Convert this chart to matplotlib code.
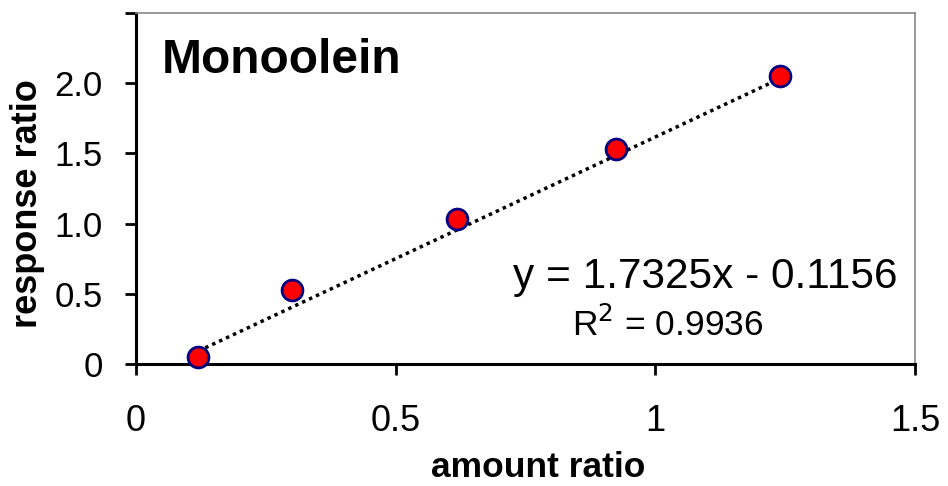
import numpy as np
import matplotlib.pyplot as plt

plt.rcParams['font.family'] = ['Liberation Sans', 'DejaVu Sans']

# calibration points for monoolein
amount_ratio = [0.12, 0.30, 0.618, 0.925, 1.24]
response_ratio = [0.05, 0.53, 1.03, 1.53, 2.05]

# linear trendline from the fit
slope = 1.7325
intercept = -0.1156
r_squared = 0.9936

x_ticks = [0, 0.5, 1, 1.5]
x_tick_labels = ["0", "0.5", "1", "1.5"]
y_ticks = [0, 0.5, 1.0, 1.5, 2.0, 2.5]
y_tick_labels = ["0", "0.5", "1.0", "1.5", "2.0", ""]

fig = plt.figure(figsize=(9.48, 4.86), dpi=100)
ax = fig.add_axes([0.1435, 0.251, 0.8217, 0.7223])

xfit = np.array([amount_ratio[0], amount_ratio[-1]])
ax.plot(xfit, slope * xfit + intercept, color="black", lw=2.5,
        linestyle=(0, (1, 1.2)), zorder=2)
ax.plot(amount_ratio, response_ratio, "o", ms=15, mfc="#ff0000",
        mec="#000080", mew=2, zorder=3, clip_on=False)

ax.set_xlim(0, 1.5)
ax.set_ylim(0, 2.5)
ax.set_xticks(x_ticks)
ax.set_xticklabels(x_tick_labels)
ax.set_yticks(y_ticks)
ax.set_yticklabels(y_tick_labels)
ax.tick_params(axis="x", direction="out", length=8, width=2, labelsize=26, pad=21)
ax.tick_params(axis="y", direction="out", length=8, width=2, labelsize=25, pad=16)

for side in ("left", "bottom"):
    ax.spines[side].set_linewidth(2.2)
    ax.spines[side].set_color("black")
for side in ("top", "right"):
    ax.spines[side].set_linewidth(1.2)
    ax.spines[side].set_color("#888888")

ax.set_xlabel("amount ratio", fontsize=25.5, fontweight="bold")
ax.xaxis.set_label_coords(0.516, -0.322, transform=ax.transAxes)
ax.xaxis.label.set_va("baseline")
ax.set_ylabel("response ratio", fontsize=26, fontweight="bold")
ax.yaxis.set_label_coords(-0.117, 0.457, transform=ax.transAxes)

ax.text(0.033, 0.93, "Monoolein", transform=ax.transAxes, fontsize=34.5,
        fontweight="bold", va="top", ha="left")
ax.text(0.977, 0.248, "y = %.4fx - %.4f" % (slope, -intercept), transform=ax.transAxes,
        fontsize=30.5, ha="right", va="center")
ax.text(0.682, 0.111, "R$^2$ = %.4f" % r_squared, transform=ax.transAxes,
        fontsize=25.5, ha="center", va="center")

fig.savefig("out.png", dpi=100)
